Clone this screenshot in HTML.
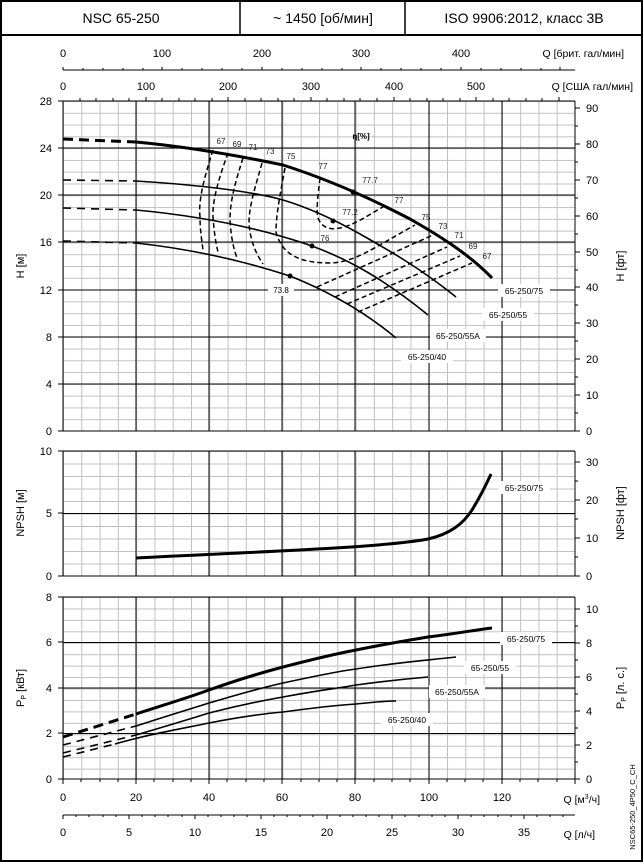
<!DOCTYPE html>
<html><head><meta charset="utf-8"><style>
body{margin:0;background:#fff;}
svg{display:block;font-family:"Liberation Sans",sans-serif;}
</style></head><body>
<svg width="643" height="862" viewBox="0 0 643 862" xmlns="http://www.w3.org/2000/svg">
<defs>
<pattern id="gv" x="63" y="0" width="18.286" height="862" patternUnits="userSpaceOnUse"><line x1="0.5" y1="0" x2="0.5" y2="862" stroke="#c0c0c0" stroke-width="1"/></pattern>
<pattern id="gh1" x="0" y="101" width="643" height="11.786" patternUnits="userSpaceOnUse"><line x1="0" y1="0.5" x2="643" y2="0.5" stroke="#c0c0c0" stroke-width="1"/></pattern>
<pattern id="gh2" x="0" y="451" width="643" height="12.5" patternUnits="userSpaceOnUse"><line x1="0" y1="0.5" x2="643" y2="0.5" stroke="#c0c0c0" stroke-width="1"/></pattern>
<pattern id="gh3" x="0" y="597" width="643" height="11.44" patternUnits="userSpaceOnUse"><line x1="0" y1="0.5" x2="643" y2="0.5" stroke="#c0c0c0" stroke-width="1"/></pattern>
</defs>
<rect x="1" y="1" width="641" height="860" fill="#fff" stroke="#000" stroke-width="2"/>
<line x1="0" y1="35" x2="643" y2="35" stroke="#000" stroke-width="2"/>
<line x1="240" y1="0" x2="240" y2="35" stroke="#000" stroke-width="1.5"/>
<line x1="405" y1="0" x2="405" y2="35" stroke="#000" stroke-width="1.5"/>
<g font-size="14" text-anchor="middle">
<text x="121" y="23">NSC 65-250</text>
<text x="323" y="23">~ 1450 [об/мин]</text>
<text x="524" y="23">ISO 9906:2012, класс 3B</text>
</g>
<!-- top axes -->
<line x1="63" y1="70" x2="575" y2="70" stroke="#000"/>
<g stroke="#000">
<path d="M63 67V70M83 68V70M103 68V70M123 68V70M143 68V70M162 67V70M182 68V70M202 68V70M222 68V70M242 68V70M262 67V70M282 68V70M302 68V70M322 68V70M342 68V70M361 67V70M381 68V70M401 68V70M421 68V70M441 68V70M461 67V70M481 68V70M501 68V70M521 68V70M541 68V70M560 67V70"/>
</g>
<g font-size="11" text-anchor="middle">
<text x="63" y="57">0</text><text x="162" y="57">100</text><text x="262" y="57">200</text><text x="361" y="57">300</text><text x="461" y="57">400</text>
<text x="63" y="90">0</text><text x="146" y="90">100</text><text x="228" y="90">200</text><text x="311" y="90">300</text><text x="394" y="90">400</text><text x="476" y="90">500</text>
</g>
<g font-size="10.5" text-anchor="end">
<text x="624" y="57">Q [брит. гал/мин]</text>
<text x="633" y="90">Q [США гал/мин]</text>
</g>
<!-- H chart -->
<rect x="63" y="101" width="512" height="330" fill="url(#gv)"/>
<rect x="63" y="101" width="512" height="330" fill="url(#gh1)"/>
<g stroke="#000" stroke-width="1">
<path d="M136 101V431M209 101V431M282 101V431M355 101V431M429 101V431M502 101V431"/>
<path d="M63 148H575M63 195H575M63 242H575M63 290H575M63 337H575M63 384H575"/>
<path d="M63 101V431M575 101V431M63 431H575M63 101H575"/>
</g>
<g stroke="#000"><path d="M80 101V98M96 101V98M113 101V98M129 101V98M146 101V97M162 101V98M179 101V98M195 101V98M212 101V98M228 101V97M245 101V98M261 101V98M278 101V98M294 101V98M311 101V97M327 101V98M344 101V98M360 101V98M377 101V98M394 101V97M410 101V98M427 101V98M443 101V98M460 101V98M476 101V97M493 101V98M509 101V98M526 101V98M542 101V98M559 101V97"/>
<path d="M58 101H63M58 148H63M58 195H63M58 242H63M58 290H63M58 337H63M58 384H63M58 431H63"/>
<path d="M575 108H580M575 144H580M575 180H580M575 216H580M575 252H580M575 287H580M575 323H580M575 359H580M575 395H580M575 431H580"/>
<path d="M575 126H578M575 162H578M575 198H578M575 234H578M575 270H578M575 305H578M575 341H578M575 377H578M575 413H578"/>
</g>
<g font-size="11" text-anchor="end">
<text x="52" y="105">28</text><text x="52" y="152">24</text><text x="52" y="199">20</text><text x="52" y="246">16</text><text x="52" y="294">12</text><text x="52" y="341">8</text><text x="52" y="388">4</text><text x="52" y="435">0</text>
</g>
<g font-size="11">
<text x="586" y="112">90</text><text x="586" y="148">80</text><text x="586" y="184">70</text><text x="586" y="220">60</text><text x="586" y="256">50</text><text x="586" y="291">40</text><text x="586" y="327">30</text><text x="586" y="363">20</text><text x="586" y="399">10</text><text x="586" y="435">0</text>
</g>
<text transform="translate(24,266) rotate(-90)" font-size="11" text-anchor="middle">H [м]</text>
<text transform="translate(624,266) rotate(-90)" font-size="11" text-anchor="middle">H [фт]</text>
<!-- H curves -->
<g fill="none" stroke="#000">
<path d="M63 139L136 142" stroke-width="3" stroke-dasharray="10,6"/>
<path d="M136 142C190 147 240 156 283 165C330 180 370 198 410 219C440 236 470 255 492 278" stroke-width="3"/>
<path d="M63 180L136 181" stroke-width="1.6" stroke-dasharray="8,6"/>
<path d="M136 181C200 185 250 191 283 200C310 208 335 220 360 234C390 251 420 268 456 297" stroke-width="1.6"/>
<path d="M63 208L136 210" stroke-width="1.6" stroke-dasharray="8,6"/>
<path d="M136 210C200 216 260 228 312 246C350 260 385 280 428 315" stroke-width="1.6"/>
<path d="M63 241L136 243" stroke-width="1.6" stroke-dasharray="8,6"/>
<path d="M136 243C200 250 250 263 290 276C330 292 365 312 396 338" stroke-width="1.6"/>
</g>
<!-- efficiency contours -->
<g fill="none" stroke="#000" stroke-width="1.5" stroke-dasharray="5,3">
<path d="M213 150C205 175 198 200 200 217C200 230 202 242 203 250"/>
<path d="M228 153C220 175 212 200 213 217C214 232 216 244 218 252"/>
<path d="M243 158C236 180 230 200 230 220C231 238 234 250 237 258"/>
<path d="M262 163C256 185 249 205 249 223C250 240 256 254 263 264"/>
<path d="M285 168C280 195 276 215 276 232C282 255 300 263 330 263C355 262 370 250 415 225"/>
<path d="M320 178C318 195 316 210 318 218C322 228 330 230 340 228C355 225 368 215 383 207"/>
<path d="M317 287L433 235"/>
<path d="M335 297L447 247"/>
<path d="M347 304L460 256"/>
<path d="M358 312L472 263"/>
</g>
<g fill="#000"><circle cx="353" cy="192" r="2.5"/><circle cx="333" cy="221" r="2.5"/><circle cx="312" cy="246" r="2.5"/><circle cx="290" cy="276" r="2.5"/></g>
<g font-size="8" text-anchor="middle" fill="#222">
<text x="221" y="144">67</text><text x="237" y="147">69</text><text x="253" y="150">71</text><text x="270" y="154">73</text><text x="291" y="159">75</text><text x="323" y="169">77</text><text x="370" y="183">77.7</text><text x="399" y="203">77</text><text x="350" y="215">77.2</text><text x="426" y="220">75</text><text x="443" y="229">73</text><text x="459" y="238">71</text><text x="473" y="249">69</text><text x="487" y="259">67</text><text x="325" y="241">76</text>
</g>
<rect x="268" y="284" width="26" height="12" fill="#fff"/>
<text x="281" y="293" font-size="8" text-anchor="middle">73.8</text>
<text x="361" y="139" font-size="8" font-weight="bold" text-anchor="middle">η[%]</text>
<g font-size="8.5" text-anchor="middle">
<rect x="498" y="284" width="52" height="13" fill="#fff"/><text x="524" y="294">65-250/75</text>
<rect x="482" y="308" width="52" height="13" fill="#fff"/><text x="508" y="318">65-250/55</text>
<rect x="430" y="329" width="56" height="13" fill="#fff"/><text x="458" y="339">65-250/55A</text>
<rect x="401" y="350" width="52" height="13" fill="#fff"/><text x="427" y="360">65-250/40</text>
</g>
<!-- NPSH chart -->
<rect x="63" y="451" width="512" height="125" fill="url(#gv)"/>
<rect x="63" y="451" width="512" height="125" fill="url(#gh2)"/>
<g stroke="#000">
<path d="M136 451V576M209 451V576M282 451V576M355 451V576M429 451V576M502 451V576"/>
<path d="M63 513.5H575M63 451H575M63 576H575M63 451V576M575 451V576"/>
<path d="M58 451H63M58 513H63M58 576H63M575 576H580M575 538H580M575 500H580M575 462H580M575 557H578M575 519H578M575 481H578"/>
</g>
<g font-size="11" text-anchor="end"><text x="52" y="455">10</text><text x="52" y="517">5</text><text x="52" y="580">0</text></g>
<g font-size="11"><text x="586" y="580">0</text><text x="586" y="542">10</text><text x="586" y="504">20</text><text x="586" y="466">30</text></g>
<text transform="translate(24,513) rotate(-90)" font-size="11" text-anchor="middle">NPSH [м]</text>
<text transform="translate(624,513) rotate(-90)" font-size="11" text-anchor="middle">NPSH [фт]</text>
<path d="M136 558C250 552 380 548 428 539C450 534 463 524 472 510C480 497 486 485 491 474" fill="none" stroke="#000" stroke-width="3"/>
<rect x="498" y="481" width="52" height="13" fill="#fff"/><text x="524" y="491" font-size="8.5" text-anchor="middle">65-250/75</text>
<!-- Power chart -->
<rect x="63" y="597" width="512" height="182" fill="url(#gv)"/>
<rect x="63" y="597" width="512" height="182" fill="url(#gh3)"/>
<g stroke="#000">
<path d="M136 597V779M209 597V779M282 597V779M355 597V779M429 597V779M502 597V779"/>
<path d="M63 642.5H575M63 688H575M63 733.5H575M63 597H575M63 779H575M63 597V779M575 597V779"/>
<path d="M58 597H63M58 642H63M58 688H63M58 733H63M58 779H63"/>
<path d="M575 779H580M575 745H580M575 711H580M575 677H580M575 643H580M575 609H580M575 762H578M575 728H578M575 694H578M575 660H578M575 626H578"/>
<path d="M63 779V784M136 779V784M209 779V784M282 779V784M355 779V784M429 779V784M502 779V784M575 779V784M81 779V782M100 779V782M118 779V782M154 779V782M173 779V782M191 779V782M227 779V782M246 779V782M264 779V782M301 779V782M319 779V782M337 779V782M374 779V782M392 779V782M410 779V782M447 779V782M465 779V782M483 779V782M520 779V782M538 779V782M557 779V782"/>
</g>
<g font-size="11" text-anchor="end"><text x="52" y="601">8</text><text x="52" y="646">6</text><text x="52" y="692">4</text><text x="52" y="737">2</text><text x="52" y="783">0</text></g>
<g font-size="11"><text x="586" y="783">0</text><text x="586" y="749">2</text><text x="586" y="715">4</text><text x="586" y="681">6</text><text x="586" y="647">8</text><text x="586" y="613">10</text></g>
<text transform="translate(24,688) rotate(-90)" font-size="11" text-anchor="middle">P<tspan font-size="7" dy="2">P</tspan><tspan dy="-2"> [кВт]</tspan></text>
<text transform="translate(624,688) rotate(-90)" font-size="11" text-anchor="middle">P<tspan font-size="7" dy="2">P</tspan><tspan dy="-2"> [л. с.]</tspan></text>
<g fill="none" stroke="#000">
<path d="M63 737L136 714" stroke-width="3" stroke-dasharray="10,6"/>
<path d="M136 714C170 703 190 697 209 690C240 679 260 673 283 667C310 660 335 654 356 650C390 643 410 640 428 637C460 633 475 630 492 628" stroke-width="3"/>
<path d="M63 745L136 726" stroke-width="1.6" stroke-dasharray="8,6"/>
<path d="M136 726C170 715 190 709 209 703C240 694 260 688 283 683C320 675 340 671 356 669C400 662 430 660 456 657" stroke-width="1.6"/>
<path d="M63 753L136 735" stroke-width="1.6" stroke-dasharray="8,6"/>
<path d="M136 735C170 725 190 719 209 713C240 705 260 701 283 697C320 690 340 688 356 685C385 681 405 679 428 677" stroke-width="1.6"/>
<path d="M63 757L115 744" stroke-width="1.6" stroke-dasharray="8,6"/>
<path d="M115 744C150 734 180 729 209 723C240 717 260 714 283 712C320 707 340 705 356 704C375 702 385 701 396 701" stroke-width="1.6"/>
</g>
<g font-size="8.5" text-anchor="middle">
<rect x="500" y="632" width="52" height="13" fill="#fff"/><text x="526" y="642">65-250/75</text>
<rect x="464" y="661" width="52" height="13" fill="#fff"/><text x="490" y="671">65-250/55</text>
<rect x="429" y="685" width="56" height="13" fill="#fff"/><text x="457" y="695">65-250/55A</text>
<rect x="381" y="713" width="52" height="13" fill="#fff"/><text x="407" y="723">65-250/40</text>
</g>
<!-- bottom axes -->
<g font-size="11" text-anchor="middle">
<text x="63" y="801">0</text><text x="136" y="801">20</text><text x="209" y="801">40</text><text x="282" y="801">60</text><text x="355" y="801">80</text><text x="429" y="801">100</text><text x="502" y="801">120</text>
</g>
<text x="600" y="803" font-size="10.5" text-anchor="end">Q [м<tspan font-size="7" dy="-4">3</tspan><tspan dy="4">/ч]</tspan></text>
<line x1="63" y1="815" x2="575" y2="815" stroke="#000"/>
<g stroke="#000"><path d="M63 815V819M76 815V817M89 815V817M103 815V817M116 815V817M129 815V819M142 815V817M155 815V817M168 815V817M182 815V817M195 815V819M208 815V817M221 815V817M234 815V817M247 815V817M261 815V819M274 815V817M287 815V817M300 815V817M313 815V817M327 815V819M340 815V817M353 815V817M366 815V817M379 815V817M392 815V819M405 815V817M419 815V817M432 815V817M445 815V817M458 815V819M471 815V817M484 815V817M498 815V817M511 815V817M524 815V819M537 815V817M550 815V817M563 815V817"/></g>
<g font-size="11" text-anchor="middle">
<text x="63" y="836">0</text><text x="129" y="836">5</text><text x="195" y="836">10</text><text x="261" y="836">15</text><text x="327" y="836">20</text><text x="392" y="836">25</text><text x="458" y="836">30</text><text x="524" y="836">35</text>
</g>
<text x="595" y="838" font-size="10.5" text-anchor="end">Q [л/ч]</text>
<text transform="translate(635,807) rotate(-90)" font-size="7.5" text-anchor="middle">NSC65-250_4P50_C_CH</text>
</svg>
</body></html>
